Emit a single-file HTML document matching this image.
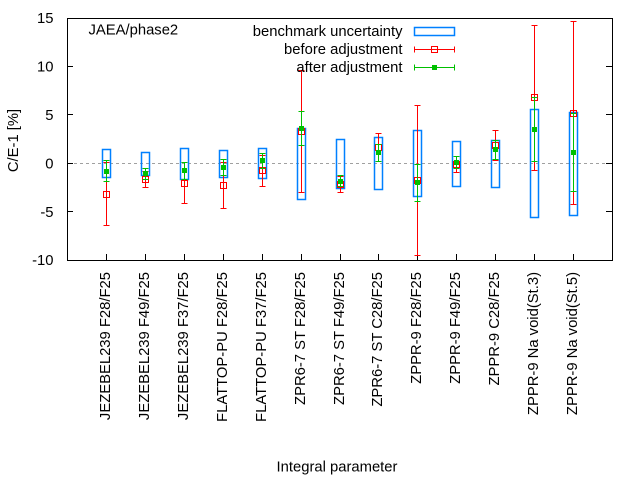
<!DOCTYPE html>
<html><head><meta charset="utf-8"><style>
html,body{margin:0;padding:0;background:#fff;}
svg{display:block;}
text{font-family:"Liberation Sans",Arial,sans-serif;font-size:14.8px;fill:#000;}
</style></head><body>
<svg width="640" height="480" viewBox="0 0 640 480" xmlns="http://www.w3.org/2000/svg">
<rect width="640" height="480" fill="#fff"/>
<!-- zero line -->
<line x1="68" y1="163.5" x2="612" y2="163.5" stroke="#a0a0a0" stroke-width="1" stroke-dasharray="3,3"/>
<!-- border -->
<rect x="67.5" y="18.5" width="545" height="242" fill="none" stroke="#000" stroke-width="1"/>
<!-- y ticks -->
<g stroke="#000" stroke-width="1">
<line x1="67" y1="66.5" x2="73" y2="66.5"/><line x1="606" y1="66.5" x2="612" y2="66.5"/>
<line x1="67" y1="114.5" x2="73" y2="114.5"/><line x1="606" y1="114.5" x2="612" y2="114.5"/>
<line x1="67" y1="163.5" x2="73" y2="163.5"/><line x1="606" y1="163.5" x2="612" y2="163.5"/>
<line x1="67" y1="211.5" x2="73" y2="211.5"/><line x1="606" y1="211.5" x2="612" y2="211.5"/>
<!-- x ticks -->
<line x1="106.5" y1="260" x2="106.5" y2="254"/>
<line x1="145.5" y1="260" x2="145.5" y2="254"/>
<line x1="184.5" y1="260" x2="184.5" y2="254"/>
<line x1="223.5" y1="260" x2="223.5" y2="254"/>
<line x1="262.5" y1="260" x2="262.5" y2="254"/>
<line x1="301.5" y1="260" x2="301.5" y2="254"/>
<line x1="340.5" y1="260" x2="340.5" y2="254"/>
<line x1="378.5" y1="260" x2="378.5" y2="254"/>
<line x1="417.5" y1="260" x2="417.5" y2="254"/>
<line x1="456.5" y1="260" x2="456.5" y2="254"/>
<line x1="495.5" y1="260" x2="495.5" y2="254"/>
<line x1="534.5" y1="260" x2="534.5" y2="254"/>
<line x1="573.5" y1="260" x2="573.5" y2="254"/>
</g>
<!-- y tick labels -->
<g text-anchor="end">
<text x="53.5" y="23">15</text>
<text x="53.5" y="71.5">10</text>
<text x="53.5" y="120">5</text>
<text x="53.5" y="168.5">0</text>
<text x="53.5" y="217">-5</text>
<text x="53.5" y="265">-10</text>
</g>
<!-- y label -->
<text transform="translate(18,140.5) rotate(-90)" text-anchor="middle">C/E-1 [%]</text>
<!-- x label -->
<text x="337" y="471.5" text-anchor="middle">Integral parameter</text>
<!-- x tick labels -->
<g text-anchor="end">
<text transform="translate(110,272) rotate(-90)">JEZEBEL239 F28/F25</text>
<text transform="translate(149,272) rotate(-90)">JEZEBEL239 F49/F25</text>
<text transform="translate(188,272) rotate(-90)">JEZEBEL239 F37/F25</text>
<text transform="translate(227,272) rotate(-90)">FLATTOP-PU F28/F25</text>
<text transform="translate(266,272) rotate(-90)">FLATTOP-PU F37/F25</text>
<text transform="translate(305,272) rotate(-90)">ZPR6-7 ST F28/F25</text>
<text transform="translate(344,272) rotate(-90)">ZPR6-7 ST F49/F25</text>
<text transform="translate(382,272) rotate(-90)">ZPR6-7 ST C28/F25</text>
<text transform="translate(421,272) rotate(-90)">ZPPR-9 F28/F25</text>
<text transform="translate(460,272) rotate(-90)">ZPPR-9 F49/F25</text>
<text transform="translate(499,272) rotate(-90)">ZPPR-9 C28/F25</text>
<text transform="translate(538,272) rotate(-90)">ZPPR-9 Na void(St.3)</text>
<text transform="translate(577,272) rotate(-90)">ZPPR-9 Na void(St.5)</text>
</g>
<!-- title -->
<text x="88.5" y="34.5">JAEA/phase2</text>
<!-- benchmark boxes -->
<g fill="none" stroke="#0080ff" stroke-width="1.5">
<rect x="102.5" y="149.5" width="8" height="28"/>
<rect x="141.5" y="152.5" width="8" height="23"/>
<rect x="180.5" y="148.5" width="8" height="31"/>
<rect x="219.5" y="150.5" width="8" height="27"/>
<rect x="258.5" y="148.5" width="8" height="30"/>
<rect x="297.5" y="128.5" width="8" height="71"/>
<rect x="336.5" y="139.5" width="8" height="49"/>
<rect x="374.5" y="137.5" width="8" height="52"/>
<rect x="413.5" y="130.5" width="8" height="66"/>
<rect x="452.5" y="141.5" width="8" height="45"/>
<rect x="491.5" y="140.5" width="8" height="47"/>
<rect x="530.5" y="109.5" width="8" height="108"/>
<rect x="569.5" y="112.5" width="8" height="103"/>
</g>
<!-- before adjustment (red) -->
<g fill="none" stroke="#ff0000" stroke-width="1">
<path d="M106.5 162.5V225.5M103.5 162.5H109.5M103.5 225.5H109.5"/><rect x="103.5" y="191.5" width="6" height="6"/>
<path d="M145.5 171.5V187.5M142.5 171.5H148.5M142.5 187.5H148.5"/><rect x="142.5" y="176.5" width="6" height="6"/>
<path d="M184.5 162.5V203.5M181.5 162.5H187.5M181.5 203.5H187.5"/><rect x="181.5" y="180.5" width="6" height="6"/>
<path d="M223.5 162.5V208.5M220.5 162.5H226.5M220.5 208.5H226.5"/><rect x="220.5" y="182.5" width="6" height="6"/>
<path d="M262.5 155.5V186.5M259.5 155.5H265.5M259.5 186.5H265.5"/><rect x="259.5" y="167.5" width="6" height="6"/>
<path d="M301.5 70.5V192.5M298.5 70.5H304.5M298.5 192.5H304.5"/><rect x="298.5" y="128.5" width="6" height="6"/>
<path d="M340.5 176.5V192.5M337.5 176.5H343.5M337.5 192.5H343.5"/><rect x="337.5" y="181.5" width="6" height="6"/>
<path d="M378.5 133.5V161.5M375.5 133.5H381.5M375.5 161.5H381.5"/><rect x="375.5" y="144.5" width="6" height="6"/>
<path d="M417.5 105.5V255.5M414.5 105.5H420.5M414.5 255.5H420.5"/><rect x="414.5" y="177.5" width="6" height="6"/>
<path d="M456.5 156.5V172.5M453.5 156.5H459.5M453.5 172.5H459.5"/><rect x="453.5" y="161.5" width="6" height="6"/>
<path d="M495.5 130.5V160.5M492.5 130.5H498.5M492.5 160.5H498.5"/><rect x="492.5" y="142.5" width="6" height="6"/>
<path d="M534.5 25.5V170.5M531.5 25.5H537.5M531.5 170.5H537.5"/><rect x="531.5" y="94.5" width="6" height="6"/>
<path d="M573.5 21.5V204.5M570.5 21.5H576.5M570.5 204.5H576.5"/><rect x="570.5" y="110.5" width="6" height="6"/>
</g>
<!-- after adjustment (green) -->
<g stroke="#00c000" stroke-width="1" fill="none">
<path d="M106.5 160.5V181.5M103.5 160.5H109.5M103.5 181.5H109.5"/>
<path d="M145.5 168.5V179.5M142.5 168.5H148.5M142.5 179.5H148.5"/>
<path d="M184.5 162.5V179.5M181.5 162.5H187.5M181.5 179.5H187.5"/>
<path d="M223.5 159.5V175.5M220.5 159.5H226.5M220.5 175.5H226.5"/>
<path d="M262.5 153.5V168.5M259.5 153.5H265.5M259.5 168.5H265.5"/>
<path d="M301.5 111.5V145.5M298.5 111.5H304.5M298.5 145.5H304.5"/>
<path d="M340.5 175.5V186.5M337.5 175.5H343.5M337.5 186.5H343.5"/>
<path d="M378.5 144.5V161.5M375.5 144.5H381.5M375.5 161.5H381.5"/>
<path d="M417.5 164.5V201.5M414.5 164.5H420.5M414.5 201.5H420.5"/>
<path d="M456.5 156.5V168.5M453.5 156.5H459.5M453.5 168.5H459.5"/>
<path d="M495.5 140.5V159.5M492.5 140.5H498.5M492.5 159.5H498.5"/>
<path d="M534.5 97.5V161.5M531.5 97.5H537.5M531.5 161.5H537.5"/>
<path d="M573.5 113.5V191.5M570.5 113.5H576.5M570.5 191.5H576.5"/>
</g>
<g fill="#00c000">
<rect x="104" y="169" width="5" height="5"/>
<rect x="143" y="171" width="5" height="5"/>
<rect x="182" y="168" width="5" height="5"/>
<rect x="221" y="165" width="5" height="5"/>
<rect x="260" y="158" width="5" height="5"/>
<rect x="299" y="126" width="5" height="5"/>
<rect x="338" y="179" width="5" height="5"/>
<rect x="376" y="150" width="5" height="5"/>
<rect x="415" y="180" width="5" height="5"/>
<rect x="454" y="160" width="5" height="5"/>
<rect x="493" y="147" width="5" height="5"/>
<rect x="532" y="127" width="5" height="5"/>
<rect x="571" y="150" width="5" height="5"/>
</g>
<!-- legend -->
<g text-anchor="end">
<text x="402.5" y="36">benchmark uncertainty</text>
<text x="402.5" y="54">before adjustment</text>
<text x="402.5" y="72">after adjustment</text>
</g>
<rect x="414.5" y="27.5" width="40" height="8" fill="none" stroke="#0080ff" stroke-width="1.5"/>
<path d="M414.5 49.5H454.5M414.5 46.5V52.5M454.5 46.5V52.5" stroke="#ff0000" stroke-width="1" fill="none"/>
<rect x="431.5" y="46.5" width="6" height="6" fill="none" stroke="#ff0000" stroke-width="1"/>
<path d="M414.5 67.5H454.5M414.5 64.5V70.5M454.5 64.5V70.5" stroke="#00c000" stroke-width="1" fill="none"/>
<rect x="432" y="65" width="5" height="5" fill="#00c000"/>
</svg>
</body></html>
